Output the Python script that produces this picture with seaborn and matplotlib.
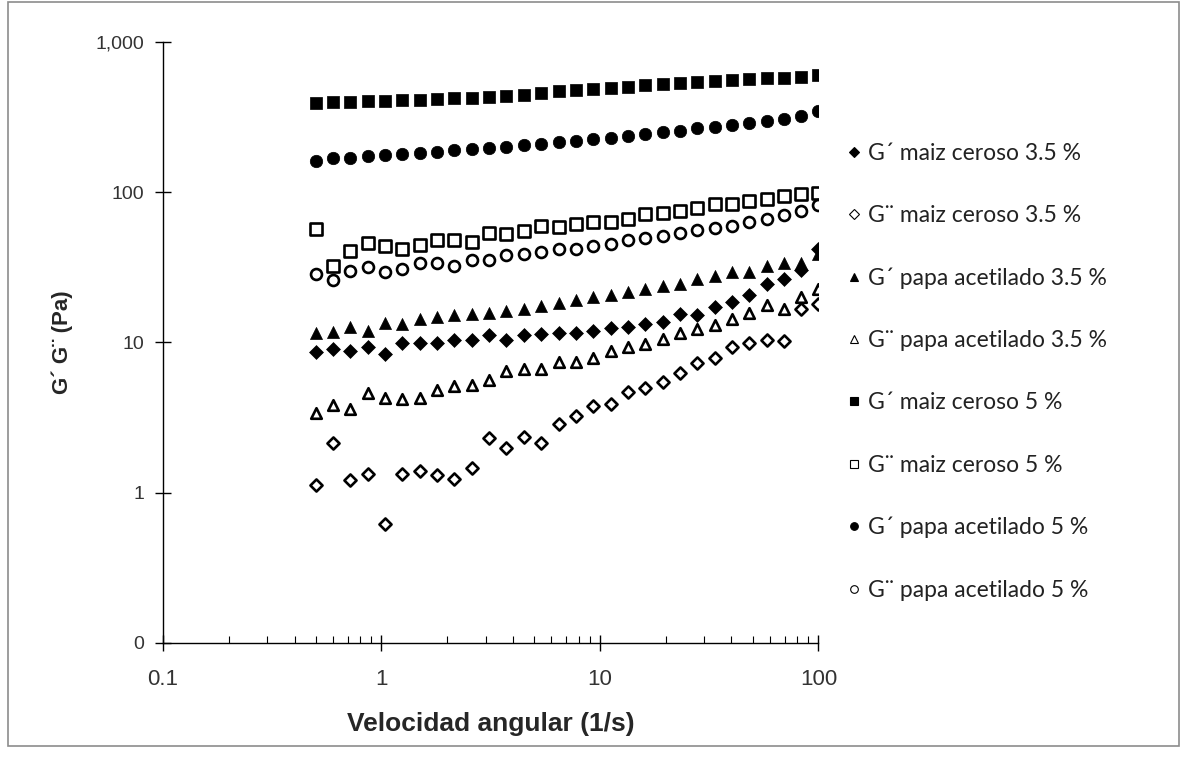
import numpy as np
import pandas as pd
import matplotlib
matplotlib.use('Agg')
import matplotlib.pyplot as plt
import matplotlib.ticker as mticker
from matplotlib.lines import Line2D
from matplotlib.patches import Rectangle
import seaborn as sns

# angular frequency (1/s), 30 points per sweep
freq = [0.5, 0.6, 0.721, 0.865, 1.039, 1.247, 1.497, 1.798, 2.158, 2.591,
        3.111, 3.735, 4.485, 5.384, 6.465, 7.762, 9.319, 11.19, 13.43, 16.13,
        19.36, 23.25, 27.91, 33.51, 40.23, 48.30, 57.99, 69.63, 83.59, 100.0]

g1_maiz_35 = [8.65, 8.97, 8.78, 9.25, 8.35, 9.84, 9.93, 9.84, 10.45, 10.35,
              11.2, 10.35, 11.2, 11.3, 11.5, 11.6, 11.9, 12.4, 12.7, 13.2,
              13.7, 15.4, 15.2, 17.1, 18.6, 20.6, 24.3, 26.3, 30.5, 42.1]
g2_maiz_35 = [1.12, 2.13, 1.21, 1.34, 0.62, 1.34, 1.40, 1.31, 1.23, 1.45,
              2.30, 1.99, 2.35, 2.13, 2.85, 3.23, 3.77, 3.92, 4.65, 4.94,
              5.46, 6.27, 7.31, 7.82, 9.33, 9.84, 10.35, 10.2, 16.6, 18.1]
g1_papa_35 = [11.5, 11.7, 12.7, 11.9, 13.4, 13.2, 14.2, 14.8, 15.2, 15.4,
              15.6, 16.2, 16.8, 17.4, 18.3, 19.1, 20.1, 20.6, 21.7, 22.8,
              23.7, 24.6, 26.3, 27.6, 29.4, 29.4, 32.1, 33.8, 33.5, 38.6]
g2_papa_35 = [3.37, 3.82, 3.63, 4.57, 4.24, 4.17, 4.24, 4.81, 5.11, 5.19,
              5.61, 6.47, 6.70, 6.70, 7.42, 7.42, 7.82, 8.79, 9.25, 9.73,
              10.6, 11.5, 12.2, 13.0, 14.4, 15.8, 17.7, 16.8, 20.1, 22.8]
g1_maiz_5 = [392, 395, 395, 402, 402, 412, 412, 417, 423, 423,
             430, 434, 446, 457, 470, 475, 482, 489, 499, 512,
             520, 529, 540, 548, 554, 562, 571, 577, 586, 601]
g2_maiz_5 = [56.6, 32.1, 40.4, 45.9, 43.8, 41.5, 44.3, 47.8, 47.8, 46.6,
             53.8, 53.0, 54.9, 59.3, 58.6, 61.8, 63.3, 63.3, 65.9, 71.1,
             73.1, 74.9, 78.9, 82.9, 83.9, 86.9, 90.6, 94.8, 97.7, 99.3]
g1_papa_5 = [162, 169, 169, 174, 176, 178, 183, 185, 190, 195,
             198, 200, 205, 208, 216, 219, 225, 230, 237, 243,
             250, 256, 266, 273, 280, 287, 295, 307, 319, 344]
g2_papa_5 = [28.4, 26.2, 29.9, 31.5, 29.4, 31.0, 33.5, 33.5, 32.1, 35.2,
             35.2, 38.0, 39.0, 40.0, 41.5, 41.5, 43.8, 44.8, 47.8, 49.5,
             51.1, 53.5, 55.7, 58.1, 59.6, 63.3, 65.9, 70.1, 74.5, 81.7]

labels = ['G´ maiz ceroso 3.5 %', 'G¨ maiz ceroso 3.5 %',
          'G´ papa acetilado 3.5 %', 'G¨ papa acetilado 3.5 %',
          'G´ maiz ceroso 5 %', 'G¨ maiz ceroso 5 %',
          'G´ papa acetilado 5 %', 'G¨ papa acetilado 5 %']
series = [g1_maiz_35, g2_maiz_35, g1_papa_35, g2_papa_35,
          g1_maiz_5, g2_maiz_5, g1_papa_5, g2_papa_5]

# marker, filled?, size (pt^2)
styles = [('D', True, 50), ('D', False, 38), ('^', True, 75), ('^', False, 58),
          ('s', True, 85), ('s', False, 68), ('o', True, 80), ('o', False, 62)]

df = pd.concat([pd.DataFrame({'freq': freq, 'G': vals, 'serie': lab})
                for lab, vals in zip(labels, series)], ignore_index=True)

sns.set_style('white')
plt.rcParams['font.family'] = ['Liberation Sans', 'DejaVu Sans']

fig = plt.figure(figsize=(11.81, 7.60), dpi=100)
ax = fig.add_axes([0.138, 0.154, 0.555, 0.791])

for lab, (mk, filled, size) in zip(labels, styles):
    sub = df[df['serie'] == lab]
    if filled:
        sns.scatterplot(data=sub, x='freq', y='G', ax=ax, marker=mk, s=size,
                        color='black', edgecolor='black', linewidth=0.5,
                        legend=False)
    else:
        sns.scatterplot(data=sub, x='freq', y='G', ax=ax, marker=mk, s=size,
                        facecolor='white', edgecolor='black', linewidth=1.9,
                        legend=False)

ax.set_xscale('log')
ax.set_yscale('log')
ax.set_xlim(0.1, 100)
ax.set_ylim(0.1, 1000)

ax.yaxis.set_major_locator(mticker.FixedLocator([0.1, 1, 10, 100, 1000]))
ax.yaxis.set_major_formatter(mticker.FixedFormatter(['0', '1', '10', '100', '1,000']))
ax.yaxis.set_minor_locator(mticker.NullLocator())
ax.xaxis.set_major_locator(mticker.FixedLocator([0.1, 1, 10, 100]))
ax.xaxis.set_major_formatter(mticker.FixedFormatter(['0.1', '1', '10', '100']))
ax.xaxis.set_minor_locator(mticker.LogLocator(base=10, subs=np.arange(2, 10)))
ax.xaxis.set_minor_formatter(mticker.NullFormatter())

for side in ['top', 'right']:
    ax.spines[side].set_visible(False)
for side in ['left', 'bottom']:
    ax.spines[side].set_color('black')
    ax.spines[side].set_linewidth(1.0)

ax.tick_params(bottom=True, left=True, which='both')
ax.tick_params(axis='both', which='major', direction='inout', length=11,
               width=1, color='black', labelcolor='#333333')
ax.tick_params(axis='y', which='major', labelsize=14, pad=8)
ax.tick_params(axis='x', which='major', labelsize=16, pad=13)
ax.tick_params(axis='x', which='minor', direction='in', length=5,
               width=0.8, color='black')

ax.set_xlabel('Velocidad angular (1/s)', fontsize=19, fontweight='bold', labelpad=16)
ax.set_ylabel('G´ G¨ (Pa)', fontsize=16, fontweight='bold', labelpad=16)

handles = []
for lab, (mk, filled, size) in zip(labels, styles):
    handles.append(Line2D([], [], linestyle='none', marker=mk, markersize=5.5,
                          markerfacecolor='black' if filled else 'white',
                          markeredgecolor='black', markeredgewidth=0.8,
                          label=lab))
fig.legend(handles=handles, loc='upper left', bbox_to_anchor=(0.7, 0.839),
           frameon=False, handlelength=0.6, handletextpad=0.3,
           labelspacing=1.8, prop={'family': ['Lato', 'DejaVu Sans'], 'size': 16.5},
           labelcolor='#222222')

fig.patches.append(Rectangle((0.007, 0.018), 0.991, 0.979, transform=fig.transFigure,
                             fill=False, edgecolor='#8c8c8c', linewidth=1.2))

fig.savefig('out.png', dpi=100)
